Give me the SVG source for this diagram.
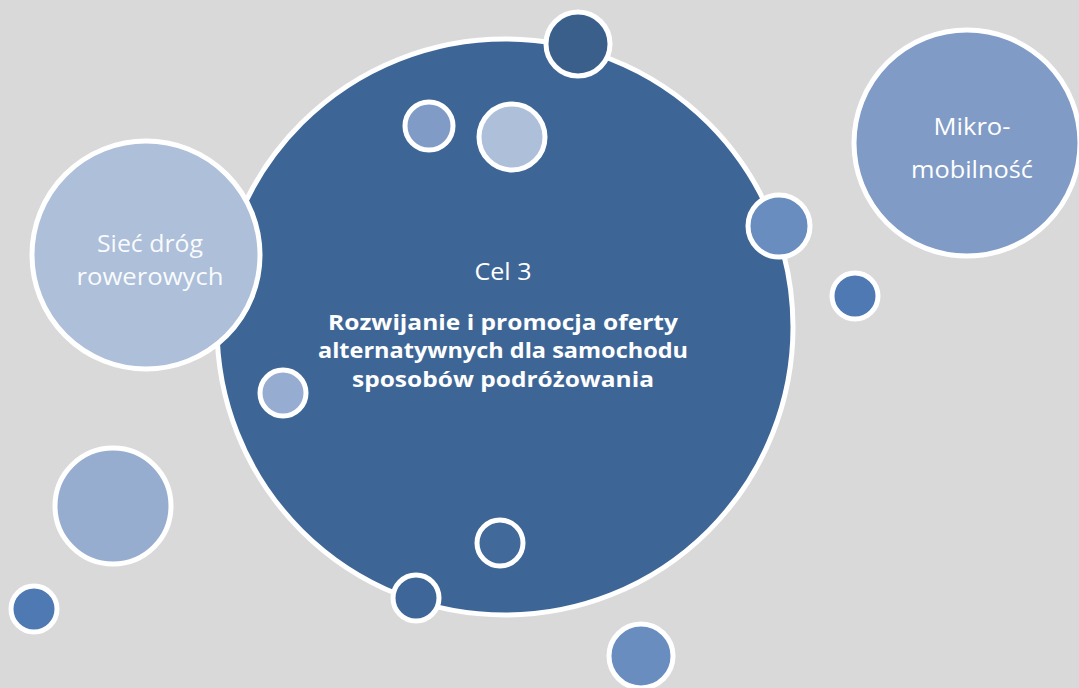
<svg xmlns="http://www.w3.org/2000/svg" width="1079" height="688" viewBox="0 0 1079 688">
<style>
.c{stroke:#ffffff;stroke-width:5}
.t{font-family:"Open Sans","Liberation Sans",sans-serif;fill:#ffffff;text-anchor:middle}
.b{font-weight:bold}
</style>
<rect width="1079" height="688" fill="#d9d9d9"/>
<g id="main">
<circle class="c" cx="505" cy="327" r="288" fill="#3d6696"/>
<text class="t" x="503" y="280" font-size="23" textLength="57" lengthAdjust="spacingAndGlyphs">Cel 3</text>
<text class="t b" x="503" y="330" font-size="21.5" textLength="350" lengthAdjust="spacingAndGlyphs">Rozwijanie i promocja oferty</text>
<text class="t b" x="503" y="358" font-size="21.5" textLength="370" lengthAdjust="spacingAndGlyphs">alternatywnych dla samochodu</text>
<text class="t b" x="503" y="387" font-size="21.5" textLength="302" lengthAdjust="spacingAndGlyphs">sposobów podróżowania</text>
</g>
<g id="siec">
<circle class="c" cx="146" cy="255" r="114" fill="#aebfda"/>
<text class="t" x="150" y="252" font-size="23" fill-opacity="0.95" textLength="106" lengthAdjust="spacingAndGlyphs">Sieć dróg</text>
<text class="t" x="150" y="285" font-size="23" fill-opacity="0.95" textLength="147" lengthAdjust="spacingAndGlyphs">rowerowych</text>
</g>
<g id="mikro">
<circle class="c" cx="967" cy="143" r="113" fill="#7f9bc6"/>
<text class="t" x="972" y="135" font-size="23" textLength="77" lengthAdjust="spacingAndGlyphs">Mikro-</text>
<text class="t" x="972" y="178" font-size="23" textLength="122" lengthAdjust="spacingAndGlyphs">mobilność</text>
</g>
<g id="dots">
<circle class="c" cx="578" cy="44" r="32" fill="#3a5f8b"/>
<circle class="c" cx="429" cy="126" r="24" fill="#7f9bc6"/>
<circle class="c" cx="512" cy="137" r="33" fill="#aebfda"/>
<circle class="c" cx="779" cy="226" r="31" fill="#698dbf"/>
<circle class="c" cx="855" cy="296" r="23" fill="#4e79b2"/>
<circle class="c" cx="283" cy="393" r="23" fill="#96acd0"/>
<circle class="c" cx="113" cy="506" r="58" fill="#97add0"/>
<circle class="c" cx="34" cy="609" r="23" fill="#4e79b2"/>
<circle class="c" cx="500" cy="543" r="23" fill="#41699a"/>
<circle class="c" cx="416" cy="598" r="23" fill="#3f6698"/>
<circle class="c" cx="641" cy="656" r="32" fill="#698dbf"/>
</g>
<g id="connectors"/>
</svg>
